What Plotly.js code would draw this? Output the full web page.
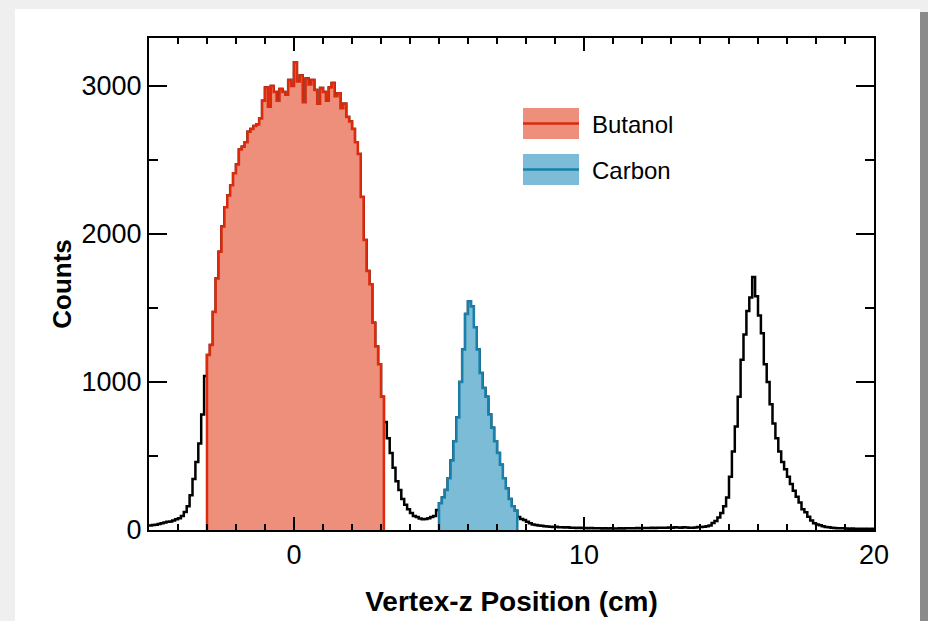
<!DOCTYPE html>
<html>
<head>
<meta charset="utf-8">
<script src="https://cdn.plot.ly/plotly-3.0.1.min.js"></script>
<style>html,body{margin:0;padding:0;background:#fff;}#chart{width:928px;height:621px;}</style>
</head>
<body>
<div id="chart"></div>
<script>
// ---- data (histogram of vertex-z, 0.1 cm bins starting at -5 cm) ----
const binStart = -5;
const binWidth = 0.1;
const counts = [
  // -5.0 .. -3.1
  30, 33, 36, 40, 45, 50, 55, 58, 64, 72, 80, 95, 122, 160, 235, 345, 460, 585, 780, 1040,
  // -3.0 .. 3.0
  1182, 1250, 1473, 1700, 1880, 2050, 2180, 2260, 2330, 2410,
  2470, 2570, 2590, 2620, 2690, 2710, 2730, 2740, 2780, 2900,
  2990, 2860, 3000, 2960, 2900, 2980, 2960, 2940, 3040, 3000,
  3160, 3030, 3070, 2890, 3050, 3010, 3040, 2973, 2880, 2986,
  2959, 2900, 2990, 3020, 2930, 2950, 2850, 2880, 2790, 2760,
  2710, 2620, 2540, 2250, 1960, 1750, 1660, 1400, 1240, 1120,
  900,
  // 3.1 .. 4.9
  730, 620, 520, 420, 330, 270, 210, 170, 140, 115, 95, 88, 78, 72, 74, 80, 88, 95, 135,
  // 5.0 .. 7.6
  180, 220, 270, 350, 470, 600, 760, 1000, 1220, 1460,
  1545, 1510, 1370, 1220, 1060, 960, 900, 780, 690, 600,
  520, 440, 350, 280, 210, 160, 130,
  // 7.7 .. 8.6
  88, 75, 68, 55, 45, 38, 34, 30, 28, 25,
  // 8.7 .. 13.5
  24, 22, 20, 22, 19, 18, 17, 18, 15, 16,
  14, 15, 13, 14, 12, 13, 12, 11, 12, 10,
  11, 10, 11, 10, 10, 11, 10, 11, 12, 11,
  12, 13, 12, 13, 14, 13, 15, 14, 15, 16,
  15, 16, 17, 16, 18, 17, 16, 18, 17,
  // 13.6 .. 13.9
  16, 15, 17, 20,
  // 14.0 .. 18.1
  20, 22, 25, 30, 47, 60, 85, 115, 160, 220,
  360, 530, 700, 900, 1150, 1320, 1480, 1570, 1710, 1580,
  1450, 1330, 1120, 1000, 850, 720, 620, 530, 460, 410,
  360, 310, 265, 225, 185, 140, 120, 90, 65, 45,
  38, 32,
  // 18.2 .. 19.9
  25, 20, 18, 15, 14, 12, 11, 12, 10, 9, 10, 8, 9, 8, 9, 8, 7, 8
];
const seriesNames = ['Butanol', 'Carbon'];
const butanolRange = [-3.0, 3.1];
const carbonRange = [5.0, 7.7];
const xTickVals = [0, 10, 20];
const yTickVals = [0, 1000, 2000, 3000];

// ---- helpers ----
function edge(i) { return Math.round((binStart + i * binWidth) * 1000) / 1000; }
function steps(lo, hi, closed) {
  const xs = [], ys = [];
  const idx = [];
  for (let i = 0; i < counts.length; i++) {
    if (edge(i) >= lo - 1e-6 && edge(i) + binWidth <= hi + 1e-6) idx.push(i);
  }
  if (closed) { xs.push(edge(idx[0])); ys.push(0); }
  idx.forEach(i => { xs.push(edge(i)); ys.push(counts[i]); });
  const last = idx[idx.length - 1];
  xs.push(edge(last + 1)); ys.push(counts[last]);
  if (closed) { xs.push(edge(last + 1)); ys.push(0); }
  return { xs, ys };
}

const RED = '#dc2a0c', RED_FILL = '#ee8f7c';
const BLUE = '#1a80aa', BLUE_FILL = '#7dbcd6';

const all = steps(binStart, binStart + counts.length * binWidth, false);
const but = steps(butanolRange[0], butanolRange[1], true);
const car = steps(carbonRange[0], carbonRange[1], true);

const traces = [
  { x: all.xs, y: all.ys, type: 'scatter', mode: 'lines', line: { shape: 'hv', color: '#000', width: 2.5 }, showlegend: false, hoverinfo: 'skip' },
  { x: but.xs, y: but.ys, type: 'scatter', mode: 'lines', name: seriesNames[0], fill: 'tozeroy', fillcolor: RED_FILL, line: { shape: 'hv', color: RED, width: 2.5 }, showlegend: false },
  { x: car.xs, y: car.ys, type: 'scatter', mode: 'lines', name: seriesNames[1], fill: 'tozeroy', fillcolor: BLUE_FILL, line: { shape: 'hv', color: BLUE, width: 2.5 }, showlegend: false }
];

// figure-pixel -> paper helpers (plot area: x 149..874, y 38..530)
const L = 149, R = 54, T = 38, B = 91, W = 928, H = 621;
const PW = W - L - R, PH = H - T - B;
const px = X => (X - L) / PW;
const py = Y => (H - B - Y) / PH;

const shapes = [
  { type: 'rect', xref: 'paper', yref: 'paper', x0: px(15), x1: px(920), y0: py(9), y1: py(H), fillcolor: '#ffffff', line: { width: 0 }, layer: 'below' },
  { type: 'rect', xref: 'paper', yref: 'paper', x0: px(920), x1: px(W), y0: py(12), y1: py(H), fillcolor: '#8a8a8a', line: { width: 0 }, layer: 'below' },
  // legend boxes
  { type: 'rect', xref: 'paper', yref: 'paper', x0: px(523), x1: px(579), y0: py(108), y1: py(139), fillcolor: RED_FILL, line: { width: 0 } },
  { type: 'line', xref: 'paper', yref: 'paper', x0: px(523), x1: px(579), y0: py(123.5), y1: py(123.5), line: { color: RED, width: 2.5 } },
  { type: 'rect', xref: 'paper', yref: 'paper', x0: px(523), x1: px(579), y0: py(154), y1: py(185), fillcolor: BLUE_FILL, line: { width: 0 } },
  { type: 'line', xref: 'paper', yref: 'paper', x0: px(523), x1: px(579), y0: py(169.5), y1: py(169.5), line: { color: BLUE, width: 2.5 } }
];

const annotations = [
  { xref: 'paper', yref: 'paper', x: px(590), y: py(124), xanchor: 'left', yanchor: 'middle', text: seriesNames[0], showarrow: false, font: { size: 24, color: '#000', family: 'Liberation Sans, Arial, sans-serif' } },
  { xref: 'paper', yref: 'paper', x: px(590), y: py(170), xanchor: 'left', yanchor: 'middle', text: seriesNames[1], showarrow: false, font: { size: 24, color: '#000', family: 'Liberation Sans, Arial, sans-serif' } }
];

const axisCommon = {
  showline: true, linewidth: 2, linecolor: '#000', mirror: 'ticks',
  ticks: 'inside', tickwidth: 2, tickcolor: '#000',
  showgrid: false, zeroline: false,
  tickfont: { size: 27, color: '#000', family: 'Liberation Sans, Arial, sans-serif' }
};

const layout = {
  width: W, height: H,
  margin: { l: L, r: R, t: T, b: B, pad: 0 },
  paper_bgcolor: '#efefef', plot_bgcolor: '#ffffff',
  font: { family: 'Liberation Sans, Arial, sans-serif', color: '#000' },
  showlegend: false,
  xaxis: Object.assign({}, axisCommon, {
    range: [-5, 20], tickmode: 'array', tickvals: xTickVals, ticklen: 13,
    minor: { tickmode: 'linear', tick0: -5, dtick: 1, ticklen: 6, tickwidth: 2, tickcolor: '#000', ticks: 'inside', showgrid: false },
    automargin: false,
    title: { text: 'Vertex-z Position (cm)', standoff: 22, font: { size: 28, weight: 'bold', color: '#000' } }
  }),
  yaxis: Object.assign({}, axisCommon, {
    range: [0, 3324], tickmode: 'array', tickvals: yTickVals, ticklen: 18,
    minor: { tickmode: 'linear', tick0: 0, dtick: 500, ticklen: 9, tickwidth: 2, tickcolor: '#000', ticks: 'inside', showgrid: false },
    automargin: false,
    title: { text: 'Counts', standoff: 2, font: { size: 26, weight: 'bold', color: '#000' } }
  }),
  shapes: shapes,
  annotations: annotations
};

Plotly.newPlot('chart', traces, layout, { staticPlot: true, displayModeBar: false });
</script>
</body>
</html>
